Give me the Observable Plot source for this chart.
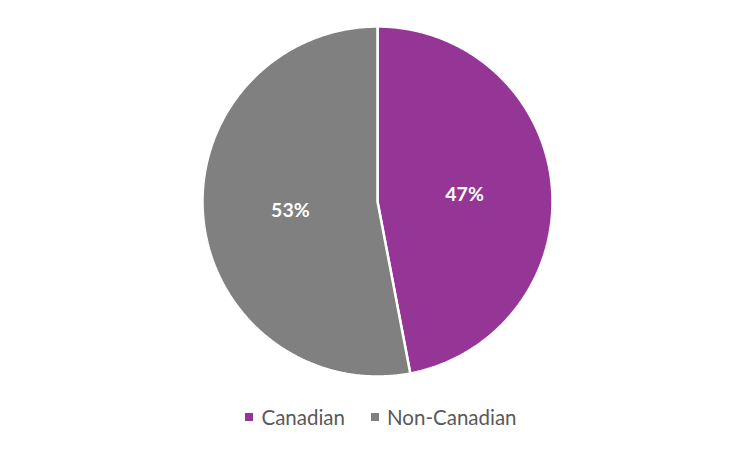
<!DOCTYPE html>
<html>
<head>
<meta charset="utf-8">
<script src="https://cdn.jsdelivr.net/npm/d3@7"></script>
<script src="https://cdn.jsdelivr.net/npm/@observablehq/plot@0.6"></script>
<style>
  body { margin: 0; background: #fff; font-family: Lato, "Open Sans", sans-serif; }
  #chart { width: 752px; }
  .legend { display: flex; justify-content: center; align-items: center; gap: 26px; margin-top: 7px; font-size: 20.5px; color: #595959; padding-left: 10px; }
  .legend span.item { display: flex; align-items: center; }
  .legend span.sw { display: inline-block; width: 8px; height: 8px; margin-right: 8px; }
</style>
</head>
<body>
<div id="chart"></div>
<script>
const categories = ["Canadian", "Non-Canadian"];
const shares = [47, 53];
const colors = ["#953595", "#808080"];

const pie = d3.pie().sort(null).value(d => d.value)(categories.map((c, i) => ({name: c, value: shares[i]})));

const polys = [];
for (const s of pie) {
  polys.push({name: s.data.name, x: 0, y: 0});
  const n = Math.max(2, Math.ceil((s.endAngle - s.startAngle) / 0.01));
  for (let k = 0; k <= n; k++) {
    const a = s.startAngle + (s.endAngle - s.startAngle) * k / n;
    polys.push({name: s.data.name, x: Math.sin(a), y: Math.cos(a)});
  }
}
const labels = pie.map(s => {
  const a = (s.startAngle + s.endAngle) / 2;
  return {name: s.data.name, text: s.data.value + "%", x: 0.5 * Math.sin(a), y: 0.5 * Math.cos(a)};
});

const cx = 377, cy = 201, R = 175;
const chart = Plot.plot({
  width: 752,
  height: 398,
  margin: 0,
  x: {domain: [-1, 1], range: [cx - R, cx + R], axis: null},
  y: {domain: [-1, 1], range: [cy + R, cy - R], axis: null},
  color: {domain: categories, range: colors},
  marks: [
    Plot.line(polys, {x: "x", y: "y", z: "name", fill: "name", stroke: "white", strokeWidth: 2.5, curve: "linear-closed", strokeLinejoin: "miter"}),
    Plot.text(labels, {x: "x", y: "y", dy: 1, text: "text", fill: "white", fontWeight: "bold", fontSize: 19.5, fontFamily: "Lato, sans-serif"})
  ]
});
document.getElementById("chart").appendChild(chart);

const legend = document.createElement("div");
legend.className = "legend";
categories.forEach((c, i) => {
  const it = document.createElement("span");
  it.className = "item";
  it.innerHTML = `<span class="sw" style="background:${colors[i]}"></span>${c}`;
  legend.appendChild(it);
});
document.getElementById("chart").appendChild(legend);
</script>
</body>
</html>
